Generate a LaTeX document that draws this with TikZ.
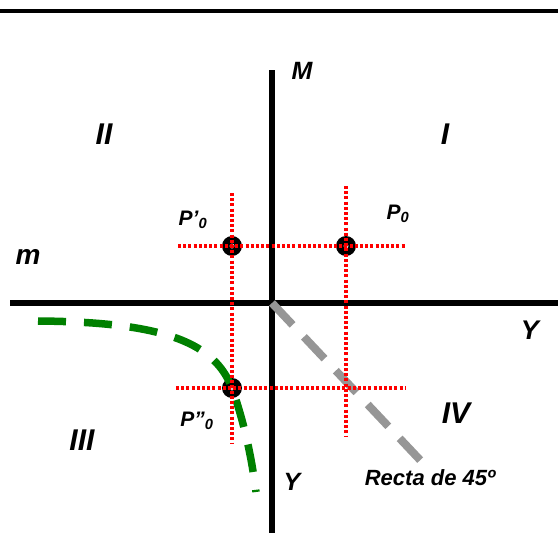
\documentclass[tikz,border=0pt]{standalone}
\usepackage{fontspec}
\setmainfont{Liberation Sans}
\usetikzlibrary{positioning}
\definecolor{guidered}{RGB}{255,0,0}
\definecolor{curvegreen}{RGB}{0,128,0}
\definecolor{linegray}{RGB}{150,150,150}
\tikzstyle{lbl} = [
    inner sep=0pt,
    font=\bfseries\itshape\fontsize{#1}{#1}\selectfont
]
\tikzstyle{axis} = [
    draw=black,
    line width=6pt
]
\tikzstyle{guide} = [
    draw=guidered,
    line width=3.2pt,
    dash pattern=on 3pt off 2.2pt
]
\tikzstyle{curve} = [
    draw=curvegreen,
    line width=7.5pt,
    dash pattern=on 28pt off 18pt
]
\tikzstyle{diag} = [
    draw=linegray,
    line width=8pt,
    dash pattern=on 30pt off 16.5pt
]
\tikzstyle{pt} = [
    circle,
    fill=black,
    minimum size=20pt,
    inner sep=0pt
]

\begin{document}
\begin{tikzpicture}[x=1pt, y=-1pt]
        \useasboundingbox (0,0) rectangle (558,533);

        % top rule
        \coordinate (tl) at (0,11);
        \coordinate (tr) at (558,11);
        \draw[line width=4pt] (tl) -- (tr);

        % axes
        \coordinate (O) at (272,303);
        \coordinate (xw) at (10,303);
        \coordinate (xe) at (558,303);
        \coordinate (yn) at (272,70);
        \coordinate (ys) at (272,533);
        \draw[axis] (xw) -- (xe);
        \draw[axis] (yn) -- (ys);

        % 45 degree line
        \coordinate (d45) at (421,461);
        \draw[diag] (O) -- (d45);

        % points
        \node[pt] (P1) at (346,246) {};
        \node[pt] (P2) at (232,246) {};
        \node[pt] (P3) at (232,388) {};
        \foreach \p in {P1,P2,P3}
            \fill[gray!40] (\p) circle (2.5pt);

        % green curve
        \coordinate (g0) at (38,321);
        \coordinate (g1) at (256,492);
        \draw[curve] (g0) .. controls (170,322) and (215,345) .. (P3.center)
            .. controls (245,425) and (252,460) .. (g1);

        % red guides
        \coordinate (h1w) at (178,246);
        \coordinate (h1e) at (406,246);
        \coordinate (h2w) at (176,388);
        \coordinate (h2e) at (405,388);
        \coordinate (v1n) at (232,193);
        \coordinate (v1s) at (232,443);
        \coordinate (v2n) at (346,186);
        \coordinate (v2s) at (346,437);
        \draw[guide] (h1w) -- (h1e);
        \draw[guide] (h2w) -- (h2e);
        \draw[guide] (v1n) -- (v1s);
        \draw[guide] (v2n) -- (v2s);

        % labels
        \node[lbl=25] (M) at (302,71) {M};
        \node[lbl=30] (qII) at (104,134) {II};
        \node[lbl=30] (qI) at (445,134) {I};
        \node[lbl=30] (qIII) at (82,440) {III};
        \node[lbl=30] (qIV) at (456,413) {IV};
        \node[lbl=28] (m) at (28,257) {m};
        \node[lbl=27] (Yx) at (530,330) {Y};
        \node[lbl=25] (Yy) at (292,482) {Y};
        \node[lbl=21] (lP1) at (398,214) {P\textsubscript{0}};
        \node[lbl=21] (lP2) at (193,220) {P’\textsubscript{0}};
        \node[lbl=21] (lP3) at (197,421) {P”\textsubscript{0}};
        \node[lbl=22] (recta) at (430,478) {Recta de 45º};
    \end{tikzpicture}
\end{document}
